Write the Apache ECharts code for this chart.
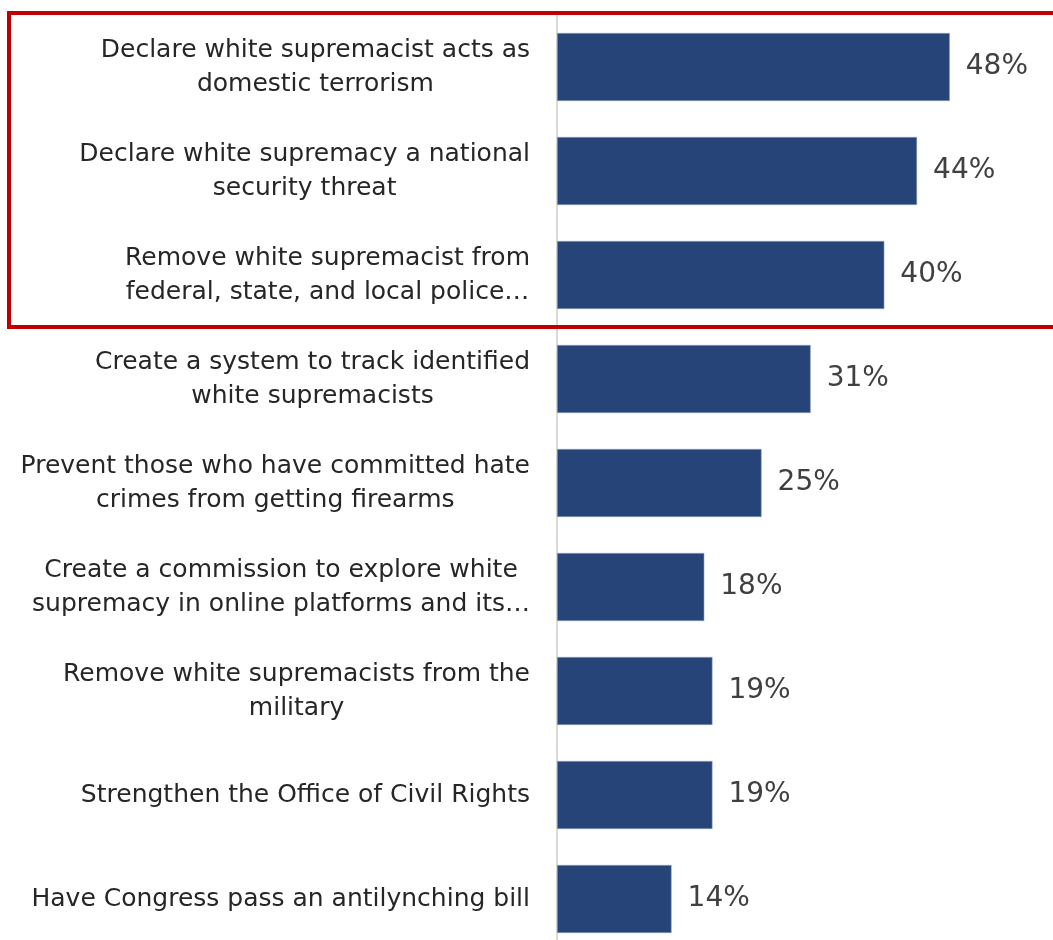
<!DOCTYPE html>
<html><head><meta charset="utf-8">
<script src="https://cdn.jsdelivr.net/npm/echarts@6/dist/echarts.min.js"></script>
<style>html,body{margin:0;padding:0;background:#fff}#c{width:1053px;height:940px}</style>
</head><body><div id="c"></div>
<script>
const categories = [
  "Declare white supremacist acts as\ndomestic terrorism",
  "Declare white supremacy a national\nsecurity threat",
  "Remove white supremacist from\nfederal, state, and local police…",
  "Create a system to track identified\nwhite supremacists",
  "Prevent those who have committed hate\ncrimes from getting firearms",
  "Create a commission to explore white\nsupremacy in online platforms and its…",
  "Remove white supremacists from the\nmilitary",
  "Strengthen the Office of Civil Rights",
  "Have Congress pass an antilynching bill"
];
const values = [48, 44, 40, 31, 25, 18, 19, 19, 14];

const chart = echarts.init(document.getElementById('c'));
const FONT = 'DejaVu Sans';
chart.setOption({
  animation: false,
  grid: { left: 557, width: 491, top: 15, height: 936, containLabel: false, outerBoundsMode: 'none' },
  xAxis: { type: 'value', min: 0, max: 60, show: false },
  yAxis: {
    type: 'category', data: categories, inverse: true,
    axisLine: { show: true, lineStyle: { color: '#d9d9d9', width: 2 } },
    axisTick: { show: false },
    axisLabel: {
      margin: 27, align: 'right', color: '#262626', fontFamily: FONT, fontSize: 25,
      formatter: v => v.split('\n').map(l => '{c|' + l + '}').join('\n'),
      rich: { c: { align: 'center', fontFamily: FONT, fontSize: 25, color: '#262626', lineHeight: 34 } }
    }
  },
  series: [{
    type: 'bar', data: values, barCategoryGap: '34.6%',
    itemStyle: { color: '#264478', borderColor: '#8fa2c4', borderWidth: 0.6 },
    label: { show: true, position: 'right', distance: 16, formatter: '{c}%',
      color: '#404040', fontFamily: FONT, fontSize: 28 }
  }],
  graphic: [{
    type: 'rect', shape: { x: 9, y: 13, width: 1070, height: 314 },
    style: { fill: 'none', stroke: '#c00000', lineWidth: 4 }, z: 100
  }]
});
</script></body></html>
